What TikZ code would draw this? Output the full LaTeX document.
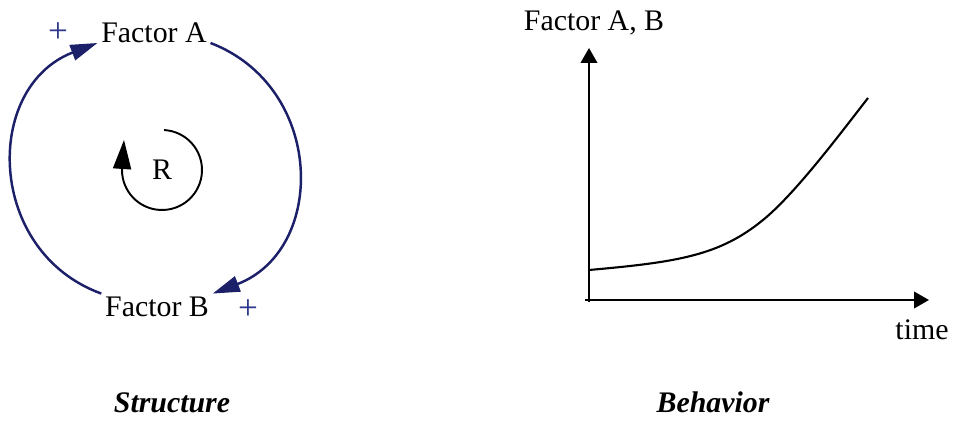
\documentclass[tikz,border=0pt]{standalone}
\usepackage{fontspec}
\setmainfont{Liberation Serif}
\usetikzlibrary{arrows.meta,positioning,calc}
\definecolor{LoopNavy}{RGB}{28,32,105}
\definecolor{SignBlue}{RGB}{45,55,140}
\tikzset{
  factor/.style={inner sep=2pt,font=\fontsize{17}{20}\selectfont},
  sign/.style={inner sep=2pt,font=\fontsize{20}{22}\selectfont,text=SignBlue},
  caption/.style={inner sep=2pt,font=\fontsize{17}{20}\selectfont\bfseries\itshape},
  link/.style={-{Triangle[length=0.54cm,width=0.32cm]},line width=1.4pt,LoopNavy},
  loopdir/.style={-{Triangle[length=0.58cm,width=0.36cm]},line width=1.1pt,black},
  axis/.style={-{Triangle[length=0.3cm,width=0.33cm]},line width=1.3pt,black},
  growth/.style={line width=1.2pt,black}
}
\begin{document}
\begin{tikzpicture}[x=0.02cm,y=0.02cm]
  \useasboundingbox (0,0) rectangle (954,422);
  % structure
  \node[factor,anchor=base] (fA) at (154,379) {Factor A};
  \node[factor,anchor=base] (fB) at (157,105) {Factor B};
  \node[sign] (pA) at (58,389) {+};
  \node[sign] (pB) at (248,112) {+};
  \node[factor] (R) at (162,252) {R};
  \draw[link] (fB.north west) to[out=160,in=201,looseness=1.25] (fA.base west);
  \draw[link] (fA.base east) to[out=-21,in=21,looseness=1.25] (fB.north east);
  \draw[loopdir] (R.center) ++(87:40) arc[start angle=87,end angle=-180,radius=40] -- ++(2,30);
  % behavior
  \coordinate (O) at (585,122);
  \coordinate (ybot) at (589,120);
  \coordinate (ytop) at (589,374);
  \coordinate (xend) at (929,122);
  \draw[axis] (ybot) -- (ytop);
  \draw[axis] (O) -- (xend);
  \node[factor] (ylab) at (594,399) {Factor A, B};
  \node[factor,anchor=base] (tlab) at (922,82) {time};
  \coordinate (g0) at (589,152);
  \coordinate (g1) at (763,202);
  \coordinate (g2) at (868,324);
  \draw[growth] (g0) .. controls (680,160) and (720,167) .. (g1)
    .. controls (795,228) and (840,288) .. (g2);
  % captions
  \node[caption,anchor=base] (cs) at (172,9) {Structure};
  \node[caption,anchor=base] (cb) at (713,9) {Behavior};
\end{tikzpicture}
\end{document}
